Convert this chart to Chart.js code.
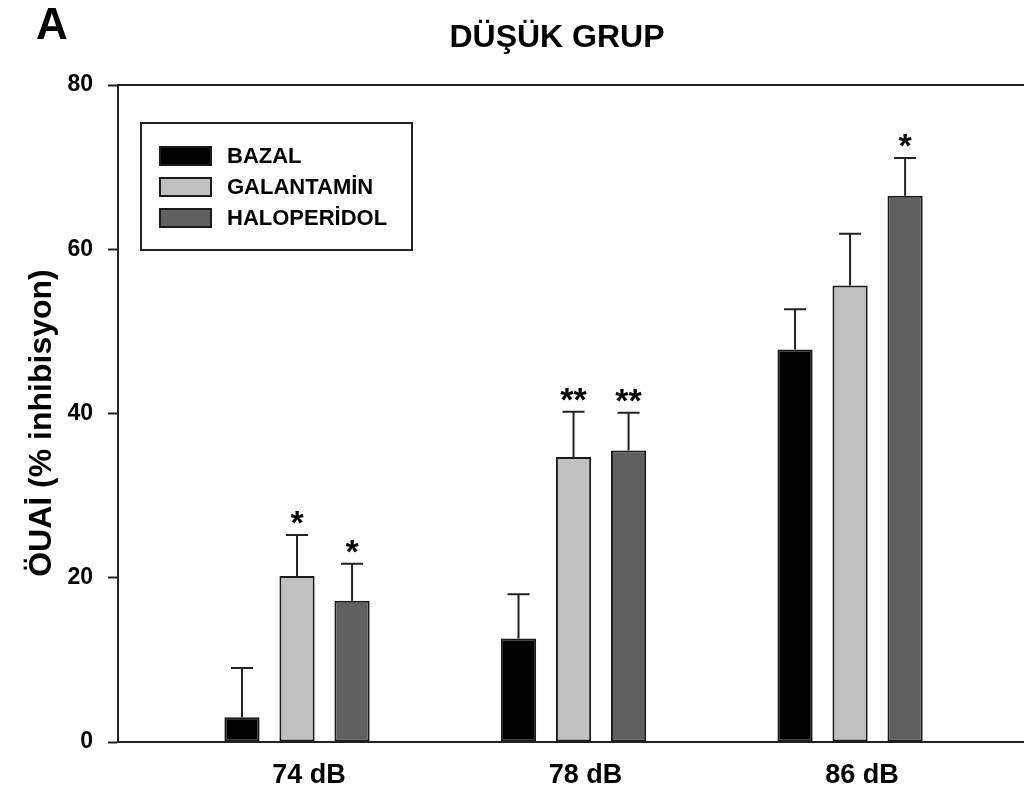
<!DOCTYPE html>
<html>
<head>
<meta charset="utf-8">
<script src="https://cdn.jsdelivr.net/npm/chart.js@4.4.1/dist/chart.umd.min.js"></script>
<style>
  html, body { margin: 0; padding: 0; background: #fff; overflow: hidden; }
  #wrap { width: 1024px; height: 791px; position: relative; }
</style>
</head>
<body>
<div id="wrap"><canvas id="c" width="1024" height="791"></canvas></div>
<script>
const categories = ['74 dB', '78 dB', '86 dB'];
const seriesNames = ['BAZAL', 'GALANTAMİN', 'HALOPERİDOL'];
const bazal = [3.0, 12.6, 47.8];
const galantamin = [20.2, 34.7, 55.6];
const haloperidol = [17.2, 35.5, 66.5];
const bazalUpper = [9.0, 18.0, 52.7];
const galantaminUpper = [25.2, 40.2, 61.9];
const haloperidolUpper = [21.7, 40.1, 71.1];
const bazalSig = ['', '', ''];
const galantaminSig = ['*', '**', ''];
const haloperidolSig = ['*', '**', '*'];
const yTicks = [0, 20, 40, 60, 80];
const titleText = 'DÜŞÜK GRUP';
const panelLetter = 'A';
const yTitle = 'ÖUAİ (% inhibisyon)';

const FONT = '"Liberation Sans", Arial, Helvetica, sans-serif';
const toPts = arr => arr.map((v, i) => ({ x: i + 1, y: v }));

const data = {
  datasets: [
    { label: seriesNames[0], data: toPts(bazal), upper: bazalUpper, sig: bazalSig,
      backgroundColor: '#000000', borderColor: '#1a1a1a' },
    { label: seriesNames[1], data: toPts(galantamin), upper: galantaminUpper, sig: galantaminSig,
      backgroundColor: '#c0c0c0', borderColor: '#1a1a1a' },
    { label: seriesNames[2], data: toPts(haloperidol), upper: haloperidolUpper, sig: haloperidolSig,
      backgroundColor: '#606060', borderColor: '#1a1a1a' }
  ]
};

const decor = {
  id: 'decor',
  afterDatasetsDraw(chart) {
    const ctx = chart.ctx;
    const ys = chart.scales.y;
    ctx.save();
    chart.data.datasets.forEach((ds, di) => {
      const meta = chart.getDatasetMeta(di);
      meta.data.forEach((bar, i) => {
        const top = ys.getPixelForValue(ds.upper[i]);
        ctx.strokeStyle = '#222';
        ctx.lineWidth = 2;
        ctx.beginPath();
        ctx.moveTo(bar.x, bar.y);
        ctx.lineTo(bar.x, top);
        ctx.moveTo(bar.x - 11, top);
        ctx.lineTo(bar.x + 11, top);
        ctx.stroke();
        if (ds.sig[i]) {
          ctx.fillStyle = '#000';
          ctx.font = 'bold 34px ' + FONT;
          ctx.textAlign = 'center';
          ctx.textBaseline = 'alphabetic';
          ctx.fillText(ds.sig[i], bar.x, top - 1);
        }
      });
    });
    ctx.restore();
  },
  afterDraw(chart) {
    const ctx = chart.ctx;
    ctx.save();
    ctx.fillStyle = '#000';
    ctx.font = 'bold 44px ' + FONT;
    ctx.textAlign = 'left';
    ctx.textBaseline = 'alphabetic';
    ctx.fillText(panelLetter, 36, 39);
    ctx.font = 'bold 32px ' + FONT;
    ctx.textAlign = 'center';
    ctx.fillText(titleText, 557, 47);
    ctx.save();
    ctx.translate(42, 423);
    ctx.rotate(-Math.PI / 2);
    ctx.font = 'bold 32px ' + FONT;
    ctx.textAlign = 'center';
    ctx.textBaseline = 'middle';
    ctx.fillText(yTitle, 0, 0);
    ctx.restore();
    ctx.strokeStyle = '#222';
    ctx.lineWidth = 2;
    ctx.strokeRect(141, 123, 271, 127);
    chart.data.datasets.forEach((ds, i) => {
      const y = 146 + i * 31;
      ctx.fillStyle = ds.backgroundColor;
      ctx.fillRect(159, y, 53, 20);
      ctx.strokeStyle = '#1a1a1a';
      ctx.lineWidth = 2;
      ctx.strokeRect(160, y + 1, 51, 18);
      ctx.fillStyle = '#000';
      ctx.font = 'bold 22px ' + FONT;
      ctx.textAlign = 'left';
      ctx.textBaseline = 'middle';
      ctx.fillText(ds.label, 227, y + 11);
    });
    ctx.restore();
  }
};

new Chart(document.getElementById('c'), {
  type: 'bar',
  data,
  plugins: [decor],
  options: {
    responsive: false,
    animation: false,
    events: [],
    layout: { padding: { top: 85, left: 0, right: 0, bottom: 0 } },
    datasets: { bar: { categoryPercentage: 0.597, barPercentage: 0.64, borderWidth: 2, borderSkipped: false, grouped: true } },
    plugins: { legend: { display: false }, title: { display: false }, tooltip: { enabled: false } },
    scales: {
      x: {
        type: 'linear',
        position: 'bottom',
        offset: false,
        min: 0.3526,
        max: 3.629,
        afterBuildTicks: s => { s.ticks = categories.map((c, i) => ({ value: i + 1 })); },
        afterFit: s => { s.height = 49; },
        ticks: {
          callback: v => categories[v - 1],
          color: '#000',
          font: { family: FONT, size: 27, weight: 'bold' },
          padding: 17,
          labelOffset: 12,
          maxRotation: 0,
          autoSkip: false
        },
        grid: { display: true, offset: false, drawOnChartArea: false, drawTicks: false },
        border: { display: true, color: '#222', width: 2 }
      },
      x2: {
        type: 'linear',
        position: 'top',
        offset: false,
        min: 0.3526,
        max: 3.629,
        afterFit: s => { s.height = 0; },
        ticks: { display: false },
        grid: { display: true, offset: false, drawOnChartArea: false, drawTicks: false },
        border: { display: true, color: '#222', width: 2 }
      },
      y: {
        min: 0,
        max: 80,
        afterBuildTicks: s => { s.ticks = yTicks.map(v => ({ value: v })); },
        afterFit: s => { s.width = 118; },
        ticks: {
          color: '#000',
          font: { family: FONT, size: 23, weight: 'bold' },
          padding: 15
        },
        grid: { display: true, drawOnChartArea: false, drawTicks: true, tickLength: 10, color: '#222', tickWidth: 2 },
        border: { display: true, color: '#222', width: 2 }
      }
    }
  }
});
</script>
</body>
</html>
